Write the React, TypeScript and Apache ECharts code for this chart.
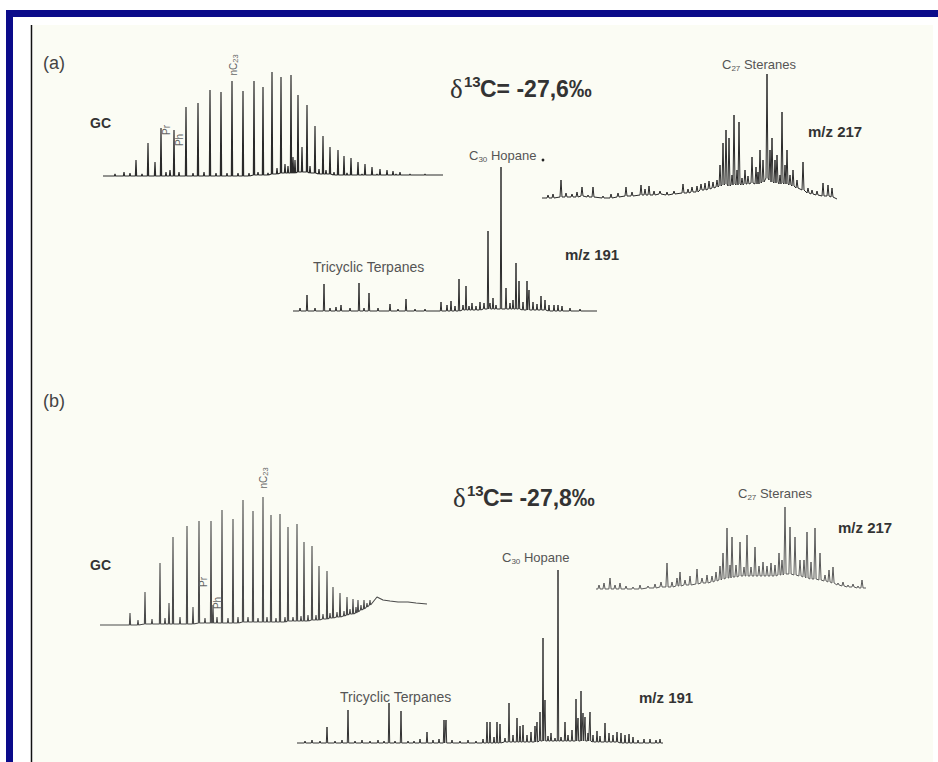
import React, { useEffect, useRef } from "react";
import * as echarts from "echarts";

// ---------- (a) GC trace: baseline points [rt, level], peaks [rt, base, top]
const gcABase = [[3, 2], [343, 3]];
const gcAPeaks = [
  [15, 2, 4], [24, 2, 6], [30, 2, 5], [36, 2, 18], [42, 2, 4], [48, 2, 35], [55, 2, 16], [61, 2, 50],
  [66, 2, 6], [70, 2, 8], [74, 2, 48], [79, 2, 6], [86, 2, 71], [93, 2, 5], [98, 2, 75], [104, 2, 6],
  [110, 2, 88], [116, 2, 5], [121, 2, 86], [127, 2, 5], [132, 2, 97], [138, 2, 5], [143, 2, 87],
  [149, 2, 5], [154, 3, 97], [158, 3, 6], [163, 3, 91], [168, 3, 5], [172, 4, 106], [177, 4, 10],
  [181, 5, 101], [185, 5, 14], [188, 5, 12], [191, 5, 103], [193, 5, 21], [195, 5, 18], [198, 6, 83],
  [202, 6, 31], [207, 6, 73], [210, 5, 12], [215, 5, 52], [219, 4, 9], [223, 4, 42], [226, 4, 8],
  [230, 4, 31], [234, 3, 6], [238, 3, 28], [244, 3, 22], [247, 3, 5], [251, 3, 20], [258, 3, 16],
  [262, 3, 4], [265, 3, 14], [272, 3, 11], [277, 3, 4], [280, 3, 9], [287, 3, 8], [293, 3, 7],
  [296, 3, 4], [300, 3, 6], [310, 3, 4], [325, 3, 4],
];

// ---------- (a) m/z 217
const stA217Base = [[2, 3], [297, 2]];
const stA217Peaks = [
  [8, 3, 6], [13, 3, 7], [21, 4, 21], [26, 4, 8], [32, 4, 7], [37, 4, 9], [42, 5, 14], [48, 4, 6],
  [53, 4, 14], [63, 3, 5], [71, 3, 7], [78, 4, 8], [86, 5, 14], [92, 5, 9], [101, 6, 16], [105, 6, 12],
  [109, 6, 15], [114, 6, 10], [120, 7, 10], [127, 6, 9], [134, 7, 10], [143, 8, 17], [148, 8, 12],
  [152, 9, 14], [157, 9, 15], [161, 11, 17], [165, 11, 18], [169, 12, 20], [173, 13, 19], [177, 14, 21],
  [180, 15, 36], [183, 16, 58], [186, 17, 71], [189, 15, 63], [192, 16, 26], [194, 17, 86], [197, 16, 31],
  [199, 17, 79], [202, 16, 23], [205, 17, 31], [208, 17, 25], [212, 18, 44], [216, 17, 34], [218, 17, 29],
  [220, 18, 51], [223, 19, 41], [227, 23, 127], [230, 21, 51], [232, 19, 63], [235, 18, 41], [237, 19, 46],
  [240, 17, 26], [242, 18, 89], [245, 17, 36], [247, 17, 51], [250, 16, 26], [253, 15, 31], [257, 13, 21],
  [263, 11, 39], [268, 8, 13], [272, 7, 11], [277, 6, 10], [283, 5, 18], [288, 5, 16], [292, 4, 13],
];

// ---------- (a) m/z 191
const trA191Base = [[3, 2], [307, 2]];
const trA191Peaks = [
  [10, 2, 5], [17, 2, 18], [25, 2, 5], [34, 2, 29], [40, 2, 5], [46, 2, 6], [51, 2, 8], [60, 2, 5],
  [69, 2, 30], [74, 2, 5], [79, 2, 20], [88, 2, 5], [100, 2, 9], [108, 2, 4], [116, 2, 14], [125, 2, 4],
  [135, 2, 4], [151, 2, 11], [157, 2, 8], [161, 2, 12], [165, 2, 7], [169, 2, 34], [173, 3, 8],
  [176, 3, 27], [179, 3, 7], [182, 3, 10], [186, 3, 7], [190, 3, 11], [194, 4, 10], [198, 4, 82],
  [200, 4, 10], [203, 4, 15], [206, 4, 8], [211, 4, 146], [216, 4, 25], [220, 4, 10], [223, 4, 13],
  [226, 4, 50], [229, 4, 32], [233, 3, 11], [237, 3, 32], [239, 3, 23], [243, 3, 11], [247, 3, 9],
  [251, 3, 17], [255, 3, 13], [259, 2, 8], [264, 2, 8], [268, 2, 8], [272, 2, 7], [280, 2, 5], [290, 2, 4],
];

// ---------- (b) GC
const gcBBase = [
  [2, 2], [279, 30], [285, 27], [292, 26], [300, 25], [310, 25], [318, 24], [329, 23],
];
const gcBPeaks = [
  [32, 2, 14], [40, 2, 7], [47, 3, 35], [54, 3, 8], [62, 3, 64], [67, 3, 9], [71, 3, 24], [75, 3, 90],
  [82, 3, 10], [89, 3, 101], [95, 3, 20], [101, 4, 106], [107, 4, 9], [113, 4, 106], [115, 4, 22],
  [119, 4, 10], [124, 4, 117], [130, 4, 9], [135, 4, 108], [140, 4, 10], [145, 5, 127], [150, 5, 10],
  [155, 5, 116], [160, 5, 9], [165, 5, 130], [169, 5, 10], [173, 5, 112], [178, 5, 9], [182, 5, 113],
  [187, 5, 10], [190, 6, 100], [195, 6, 10], [199, 6, 103], [203, 6, 11], [206, 6, 85], [210, 6, 12],
  [214, 7, 81], [218, 7, 12], [221, 7, 61], [225, 8, 13], [229, 8, 56], [232, 9, 14], [235, 9, 40],
  [239, 10, 15], [242, 10, 34], [246, 11, 16], [249, 12, 30], [252, 13, 18], [255, 13, 28], [258, 14, 20],
  [260, 15, 27], [263, 17, 22], [266, 18, 27], [269, 20, 24], [272, 22, 27],
];

// ---------- (b) m/z 217
const stB217Base = [[1, 2], [271, 3]];
const stB217Peaks = [
  [4, 2, 6], [9, 2, 8], [15, 2, 13], [20, 2, 6], [25, 2, 8], [31, 2, 5], [38, 2, 4], [45, 2, 6],
  [53, 3, 5], [60, 3, 7], [66, 4, 9], [72, 4, 28], [77, 4, 9], [82, 5, 13], [85, 5, 19], [90, 6, 11],
  [95, 6, 15], [102, 7, 22], [107, 8, 13], [112, 8, 16], [117, 9, 15], [121, 10, 19], [125, 11, 25],
  [128, 12, 38], [132, 13, 63], [135, 13, 26], [137, 14, 54], [141, 14, 26], [145, 15, 49], [149, 15, 24],
  [152, 15, 56], [156, 15, 24], [160, 15, 44], [164, 15, 25], [168, 15, 29], [172, 15, 25], [176, 15, 28],
  [180, 15, 26], [184, 16, 38], [187, 16, 31], [190, 17, 84], [195, 17, 64], [200, 16, 54], [205, 15, 31],
  [209, 14, 31], [212, 13, 59], [216, 12, 29], [220, 12, 63], [225, 11, 38], [230, 10, 16], [234, 9, 21],
  [238, 8, 24], [243, 6, 8], [248, 5, 9], [253, 4, 6], [258, 4, 7], [263, 3, 5], [267, 3, 11],
];

// ---------- (b) m/z 191
const trB191Base = [[2, 2], [368, 2]];
const trB191Peaks = [
  [10, 2, 4], [17, 2, 5], [25, 2, 4], [32, 2, 18], [40, 2, 4], [47, 2, 5], [53, 2, 35], [60, 2, 4],
  [67, 2, 5], [75, 2, 4], [83, 2, 5], [89, 2, 4], [94, 2, 42], [100, 2, 4], [106, 2, 34], [113, 2, 4],
  [119, 2, 4], [125, 2, 6], [132, 2, 13], [138, 2, 5], [144, 2, 6], [149, 2, 25], [151, 2, 25],
  [157, 2, 5], [165, 2, 4], [173, 2, 5], [181, 2, 4], [188, 2, 6], [192, 2, 23], [195, 2, 23], [199, 2, 8],
  [202, 2, 23], [205, 2, 21], [210, 3, 7], [214, 3, 42], [218, 3, 10], [222, 3, 27], [225, 3, 19],
  [228, 3, 20], [232, 3, 10], [236, 3, 13], [240, 3, 19], [242, 3, 23], [245, 4, 33], [248, 4, 107],
  [250, 4, 45], [253, 4, 9], [256, 4, 12], [260, 4, 7], [263, 4, 175], [266, 4, 8], [270, 4, 23],
  [273, 4, 10], [277, 4, 15], [281, 4, 46], [283, 4, 27], [286, 4, 54], [288, 4, 32], [290, 4, 28],
  [293, 4, 12], [295, 4, 33], [298, 3, 10], [302, 3, 14], [305, 3, 9], [310, 3, 22], [314, 3, 12],
  [318, 3, 10], [322, 3, 13], [326, 2, 12], [330, 2, 10], [334, 2, 11], [338, 2, 8], [343, 2, 5],
  [349, 2, 6], [355, 2, 6], [361, 2, 5], [365, 2, 6],
];

// text labels
const panelLabels = ["(a)", "(b)"];
const isotopeValues = ["-27,6‰", "-27,8‰"];
const massLabels = ["m/z 217", "m/z 191"];

function buildTrace(base: number[][], peaks: number[][], hw: number) {
  const items = [
    ...base.map((p) => ({ x: p[0], pts: [[p[0], p[1]]] })),
    ...peaks.map(([x, b, t]) => ({ x, pts: [[x - hw, b], [x, t], [x + hw, b]] })),
  ].sort((a, b) => a.x - b.x);
  return items.flatMap((i) => i.pts);
}

const FONT = "Liberation Sans, Arial, sans-serif";

export default function App() {
  const ref = useRef<HTMLDivElement>(null);
  useEffect(() => {
    document.body.style.margin = "0";
    if (!ref.current) return;
    const chart = echarts.init(ref.current, null, { renderer: "svg" });

    const panels = [
      { base: gcABase, peaks: gcAPeaks, grid: { left: 100, top: 68, width: 346, height: 110 }, color: "#2a2a2a", hw: 0.6, lw: 1.2 },
      { base: stA217Base, peaks: stA217Peaks, grid: { left: 540, top: 70, width: 300, height: 131 }, color: "#2a2a2a", hw: 1.0, lw: 1 },
      { base: trA191Base, peaks: trA191Peaks, grid: { left: 290, top: 163, width: 310, height: 150 }, color: "#2e2e2e", hw: 0.7, lw: 1 },
      { base: gcBBase, peaks: gcBPeaks, grid: { left: 98, top: 495, width: 335, height: 132 }, color: "#4a4a4a", hw: 0.6, lw: 1.1 },
      { base: stB217Base, peaks: stB217Peaks, grid: { left: 595, top: 505, width: 275, height: 86 }, color: "#5a5a5a", hw: 1.1, lw: 1 },
      { base: trB191Base, peaks: trB191Peaks, grid: { left: 295, top: 568, width: 370, height: 177 }, color: "#333333", hw: 0.7, lw: 1 },
    ];

    const grids = panels.map((p) => ({ ...p.grid, containLabel: false, show: false }));
    const xAxes = panels.map((p, i) => ({
      type: "value", gridIndex: i, min: 0, max: p.grid.width, show: false,
    }));
    const yAxes = panels.map((p, i) => ({
      type: "value", gridIndex: i, min: 0, max: p.grid.height, show: false,
    }));
    const series = panels.map((p, i) => ({
      type: "line",
      xAxisIndex: i,
      yAxisIndex: i,
      data: buildTrace(p.base, p.peaks, p.hw),
      symbol: "none",
      showSymbol: false,
      silent: true,
      lineStyle: { color: p.color, width: p.lw },
      z: 5,
    }));

    const lbl = (x: number, y: number, text: string, size: number, extra: any = {}) => ({
      type: "text",
      x,
      y,
      z: 20,
      style: {
        text,
        fill: extra.fill || "#555",
        font: `${extra.weight || "normal"} ${size}px ${extra.family || FONT}`,
        align: extra.align || "left",
        verticalAlign: "middle",
      },
    });

    const richSub = (x: number, y: number, pre: string, sub: string, post: string, size: number) => ({
      type: "text",
      x,
      y,
      z: 20,
      style: {
        text: `{c|${pre}}{s|${sub}}{c|${post}}`,
        align: "left",
        verticalAlign: "middle",
        rich: {
          c: { fontSize: size, fontFamily: FONT, fill: "#555", lineHeight: size + 3, verticalAlign: "middle" },
          s: { fontSize: size * 0.62, fontFamily: FONT, fill: "#555", verticalAlign: "bottom" },
        },
      },
    });

    const rotated = (x: number, y: number, pre: string, sub: string) => ({
      type: "text",
      x,
      y,
      z: 20,
      rotation: Math.PI / 2,
      style: {
        text: sub ? `{c|${pre}}{s|${sub}}` : `{c|${pre}}`,
        align: "center",
        verticalAlign: "middle",
        rich: {
          c: { fontSize: 10, fontFamily: FONT, fill: "#666", lineHeight: 12, verticalAlign: "middle" },
          s: { fontSize: 7.5, fontFamily: FONT, fill: "#666", verticalAlign: "bottom" },
        },
      },
    });

    const delta = (x: number, y: number, value: string) => [
      lbl(x, y + 1, "δ", 27, { family: "Liberation Serif, DejaVu Serif, serif", fill: "#333" }),
      lbl(x + 14, y - 7, "13", 15, { weight: "bold", fill: "#333" }),
      lbl(x + 30, y + 1, "C= " + value, 23, { weight: "bold", fill: "#333" }),
    ];

    const graphic: any[] = [
      // frame
      { type: "rect", z: 0, shape: { x: 6, y: 10, width: 932, height: 7 }, style: { fill: "#0b0b8a" }, silent: true },
      { type: "rect", z: 0, shape: { x: 6, y: 10, width: 7, height: 752 }, style: { fill: "#0b0b8a" }, silent: true },
      { type: "rect", z: 0, shape: { x: 33, y: 25, width: 900, height: 737 }, style: { fill: "#fbfcf4" }, silent: true },
      { type: "line", z: 1, shape: { x1: 31.5, y1: 25, x2: 31.5, y2: 762 }, style: { stroke: "#111", lineWidth: 1.5 }, silent: true },

      // panel (a)
      lbl(43, 63, panelLabels[0], 18, { fill: "#444" }),
      lbl(90, 123, "GC", 14, { weight: "bold", fill: "#333" }),
      rotated(166, 130, "Pr", ""),
      rotated(179, 140, "Ph", ""),
      rotated(233, 65, "nC", "23"),
      ...delta(450, 88, isotopeValues[0]),
      richSub(469, 155, "C", "30", " Hopane", 13),
      { type: "circle", z: 20, shape: { cx: 543, cy: 160, r: 1.4 }, style: { fill: "#222" } },
      richSub(722, 64, "C", "27", " Steranes", 13),
      lbl(808, 131, massLabels[0], 15, { weight: "bold", fill: "#333" }),
      lbl(313, 267, "Tricyclic Terpanes", 14, { fill: "#555" }),
      lbl(565, 254, massLabels[1], 15, { weight: "bold", fill: "#333" }),

      // panel (b)
      lbl(43, 401, panelLabels[1], 18, { fill: "#444" }),
      lbl(90, 565, "GC", 14, { weight: "bold", fill: "#333" }),
      rotated(203, 582, "Pr", ""),
      rotated(217, 603, "Ph", ""),
      rotated(263, 478, "nC", "23"),
      ...delta(453, 497, isotopeValues[1]),
      richSub(502, 557, "C", "30", " Hopane", 13),
      richSub(738, 493, "C", "27", " Steranes", 13),
      lbl(838, 527, massLabels[0], 15, { weight: "bold", fill: "#333" }),
      lbl(340, 697, "Tricyclic Terpanes", 14, { fill: "#555" }),
      lbl(639, 697, massLabels[1], 15, { weight: "bold", fill: "#333" }),
    ];

    chart.setOption({
      animation: false,
      backgroundColor: "#ffffff",
      grid: grids,
      xAxis: xAxes,
      yAxis: yAxes,
      series,
      graphic,
    } as any);

    return () => chart.dispose();
  }, []);

  return (
    <div
      ref={ref}
      style={{ position: "fixed", left: 0, top: 0, width: 938, height: 762 }}
    />
  );
}
